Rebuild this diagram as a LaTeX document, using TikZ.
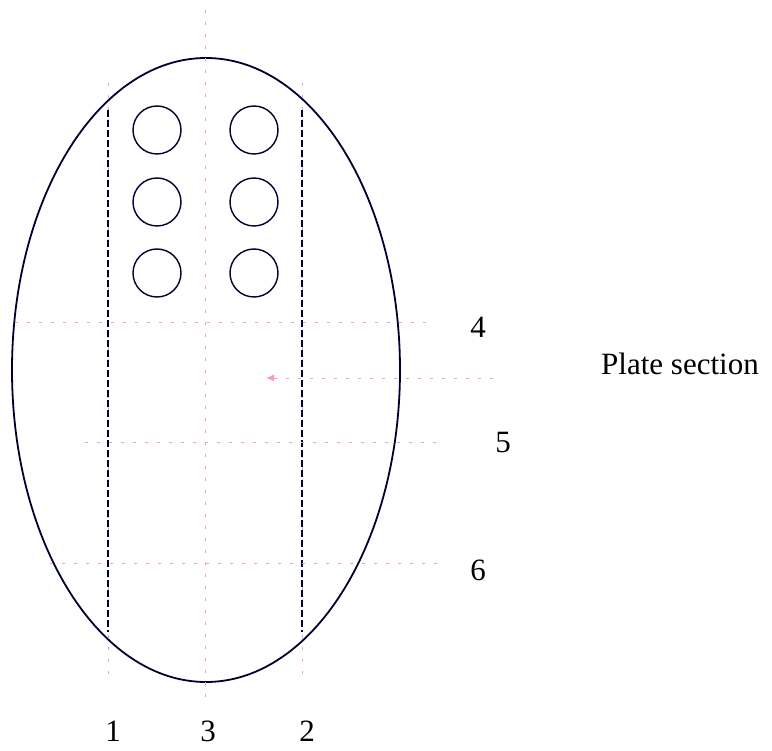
\documentclass[tikz,border=0pt]{standalone}
\usepackage{fontspec}
\setmainfont{Liberation Serif}
\usetikzlibrary{arrows.meta}
\colorlet{guidepink}{magenta!40}
\colorlet{outline}{blue!18!black}
\tikzset{
  guide/.style={guidepink, line width=0.8pt, dash pattern=on 3pt off 9pt},
  cutline/.style={outline, line width=1.6pt, dash pattern=on 7pt off 3pt},
  hole/.style={circle, draw=outline, line width=1.4pt, minimum size=48pt, inner sep=0pt},
  lbl/.style={font=\fontsize{31}{36}\selectfont, inner sep=0pt}
}

\begin{document}
\begin{tikzpicture}[x=1pt, y=-1pt]
  \useasboundingbox (0,0) rectangle (772,751);
  % plate outline and the section guides (pixel-style coordinates, y down)
  \draw[outline, line width=1.8pt] (206,370) ellipse [x radius=194, y radius=312];
  % vertical guides 1, 3, 2
  \draw[guide] (205,10) -- (205,697);
  \draw[guide] (108,83) -- (108,682);
  \draw[guide] (302,83) -- (302,682);
  \draw[cutline] (108,110) -- (108,632);
  \draw[cutline] (302,110) -- (302,632);
  % horizontal guides 4, 5, 6 and the plate axis
  \draw[guide] (15,322) -- (435,322);
  \draw[guide, {Latex[length=8pt,width=7pt]}-] (266,378) -- (500,378);
  \draw[guide] (85,442) -- (445,442);
  \draw[guide] (50,563) -- (445,563);
  % holes
  \foreach \col/\x in {l/157, r/254}
    \foreach \row/\y in {1/130, 2/202, 3/273}
      \node[hole] (h\col\row) at (\x,\y) {};
  % labels
  \node[lbl, anchor=base] (n1) at (113,741) {1};
  \node[lbl, anchor=base] (n3) at (208,741) {3};
  \node[lbl, anchor=base] (n2) at (307,741) {2};
  \node[lbl] (n4) at (478,327) {4};
  \node[lbl] (n5) at (503,443) {5};
  \node[lbl] (n6) at (478,570) {6};
  \node[lbl] (plate) at (680,364) {Plate section};
\end{tikzpicture}
\end{document}
